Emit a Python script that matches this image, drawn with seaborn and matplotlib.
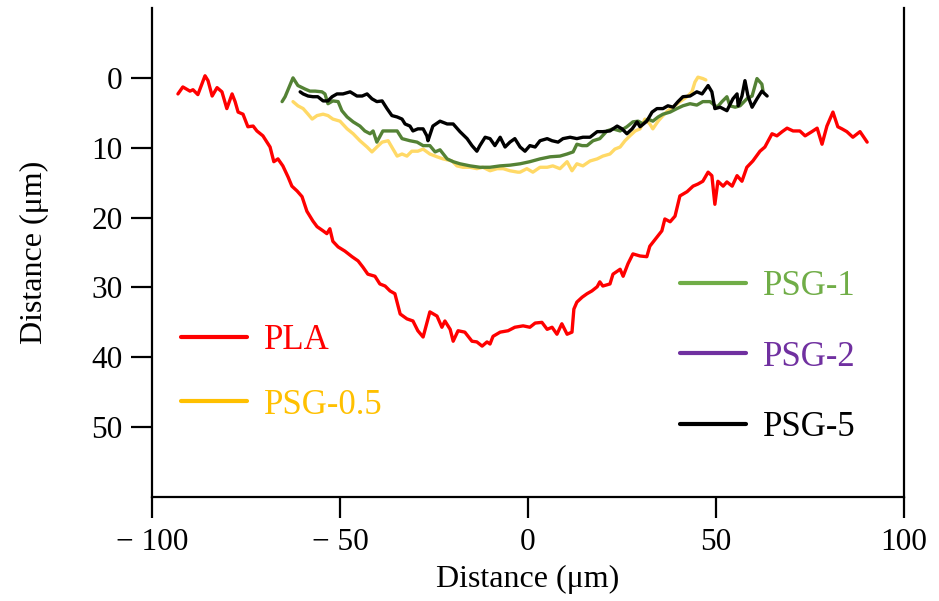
import numpy as np
import pandas as pd
import matplotlib
matplotlib.use("Agg")
import matplotlib.pyplot as plt
from matplotlib.lines import Line2D
import seaborn as sns

# ---------------- data ----------------
pla_x = [-93.1, -91.8, -89.9, -89.1, -87.8, -85.9, -85.1, -84.0, -82.7, -81.4, -80.1, -78.7, -77.9, -77.1,
         -75.8, -74.5, -73.1, -72.1, -70.5, -68.6, -67.6, -66.5, -65.2, -63.8, -62.8, -61.4, -60.1, -58.8,
         -57.2, -56.1, -54.5, -53.5, -52.7, -51.9, -50.5, -48.7, -46.8, -45.2, -43.9, -42.6, -40.7, -39.4,
         -38.0, -36.7, -35.4, -34.0, -32.2, -30.6, -29.3, -27.9, -26.1, -24.2, -22.9, -22.1, -20.7, -19.9,
         -18.6, -16.8, -14.9, -13.6, -12.2, -10.9, -10.1, -9.3, -7.4, -5.3, -3.5, -1.3, 0.5, 1.9, 3.7, 5.1,
         6.4, 7.7, 9.0, 10.4, 11.7, 12.2, 13.0, 14.4, 15.7, 17.0, 18.4, 19.1, 19.9, 21.8, 22.6, 24.5, 25.3,
         26.6, 27.9, 29.8, 31.6, 32.4, 34.3, 35.6, 36.4, 37.8, 39.1, 40.4, 42.3, 43.9, 45.2, 46.5, 47.9,
         48.9, 49.7, 50.5, 51.9, 52.9, 54.3, 55.6, 56.9, 58.2, 59.8, 61.7, 63.0, 64.9, 66.2, 67.6, 68.9,
         70.5, 72.3, 73.7, 75.5, 76.9, 78.2, 79.5, 81.1, 82.4, 83.5, 84.8, 86.4, 88.3, 90.2]
pla_y = [2.3, 1.3, 1.9, 1.7, 2.4, -0.3, 0.4, 2.6, 1.4, 2.0, 4.4, 2.3, 3.4, 4.9,
         5.2, 7.0, 6.9, 7.6, 8.3, 9.9, 12.0, 11.6, 12.6, 14.2, 15.5, 16.2, 17.0, 19.1,
         20.5, 21.3, 21.9, 22.3, 21.6, 23.4, 24.2, 24.8, 25.6, 26.2, 27.1, 28.1, 28.4, 29.5,
         29.8, 30.5, 30.9, 33.8, 34.5, 34.8, 36.2, 37.1, 33.5, 34.1, 35.7, 34.8, 36.0, 37.7,
         36.2, 36.4, 37.7, 37.8, 38.4, 37.8, 38.1, 37.0, 36.4, 36.2, 35.7, 35.5, 35.7, 35.1, 35.0, 36.0,
         35.7, 36.7, 35.2, 36.7, 36.4, 33.1, 32.1, 31.4, 30.9, 30.5, 29.9, 29.2, 29.8, 29.5, 28.1, 27.4, 28.4,
         26.6, 25.2, 25.5, 25.6, 24.1, 22.8, 21.9, 20.2, 20.6, 19.8, 16.9, 16.3, 15.5, 15.2, 14.8, 13.5,
         14.0, 18.1, 14.8, 15.5, 14.9, 15.5, 14.0, 14.8, 12.8, 11.9, 10.5, 9.9, 8.0, 8.3, 7.7, 7.2,
         7.6, 7.6, 8.3, 7.7, 7.2, 9.5, 6.9, 4.9, 7.0, 7.3, 7.7, 8.5, 7.7, 9.2]

psg05_x = [-62.5, -61.2, -59.8, -58.5, -57.4, -56.1, -54.5, -53.2, -51.9, -50.0, -48.1, -46.5, -44.7,
           -42.8, -41.5, -40.2, -38.8, -37.2, -35.9, -34.8, -33.5, -32.2, -30.9, -29.3, -27.9, -26.1,
           -24.2, -22.6, -20.2, -18.9, -17.3, -15.4, -13.6, -12.0, -10.1, -8.2, -6.6, -4.8, -2.7, -2.1,
           -0.3, 1.3, 3.2, 5.1, 6.6, 8.5, 10.4, 11.7, 13.0, 14.6, 16.5, 18.4, 19.9, 21.8, 23.1, 24.5,
           25.8, 27.1, 28.5, 29.8, 31.1, 32.4, 33.2, 34.6, 35.9, 37.2, 38.6, 40.4, 42.3, 43.6, 44.4,
           45.2, 46.5, 47.3]
psg05_y = [3.4, 4.0, 4.4, 5.2, 5.9, 5.4, 5.2, 5.4, 5.9, 6.2, 7.3, 8.0, 9.0,
           9.9, 10.6, 9.9, 9.2, 9.0, 10.2, 11.2, 10.9, 11.2, 10.5, 10.5, 10.2, 10.9,
           11.3, 11.6, 11.9, 12.6, 12.8, 12.8, 13.0, 12.8, 13.3, 13.0, 13.0, 13.3, 13.5, 13.5,
           13.0, 13.5, 12.8, 12.8, 12.6, 13.0, 12.0, 13.3, 12.3, 12.6, 11.9, 11.6, 11.2, 10.9, 10.2, 9.9,
           9.0, 8.3, 7.6, 7.3, 5.9, 6.6, 7.3, 6.2, 5.4, 4.7, 4.2, 3.4, 2.7, 2.0, 0.6,
           -0.1, 0.1, 0.3]

psg1_x = [-65.4, -64.6, -62.5, -61.2, -59.3, -58.0, -56.6, -54.8, -54.0, -53.2, -51.9, -50.5, -49.5,
          -48.1, -46.5, -44.7, -43.4, -42.0, -41.2, -40.2, -38.6, -36.7, -34.8, -33.5, -31.4, -29.5,
          -27.9, -26.1, -24.7, -23.4, -21.5, -19.9, -18.1, -15.4, -12.8, -10.1, -7.4, -4.8, -2.1, 0.5,
          3.2, 5.9, 8.5, 10.4, 12.0, 13.0, 14.4, 15.7, 17.3, 19.1, 21.0, 22.6, 24.5, 26.3, 27.9, 29.3,
          30.6, 31.9, 33.2, 34.6, 35.9, 37.8, 39.6, 41.2, 43.1, 44.9, 46.5, 48.4, 50.3, 51.6, 52.9,
          53.7, 55.1, 56.4, 58.2, 59.6, 60.9, 62.2, 62.5]
psg1_y = [3.4, 2.7, 0.0, 1.1, 1.6, 1.9, 1.9, 2.0, 2.3, 3.7, 3.3, 3.4, 4.7,
          5.6, 6.3, 6.9, 7.6, 8.0, 7.6, 9.2, 7.6, 7.6, 7.6, 8.7, 9.0, 9.2,
          9.7, 9.7, 10.6, 10.3, 11.6, 12.0, 12.3, 12.6, 12.8, 12.8, 12.6, 12.5, 12.3, 12.0,
          11.6, 11.3, 11.2, 10.9, 10.6, 9.5, 9.7, 9.7, 9.0, 8.7, 7.6, 7.3, 7.6, 7.0, 6.3, 6.2,
          6.6, 5.9, 6.2, 5.6, 5.2, 4.9, 4.4, 4.0, 3.7, 3.9, 3.4, 3.4, 4.2, 3.4, 2.7,
          4.0, 4.2, 4.0, 3.0, 2.6, 0.1, 0.9, 1.9]

psg5_x = [-60.6, -59.8, -58.5, -57.2, -55.9, -54.5, -53.2, -52.1, -50.8, -49.2, -47.3, -45.5, -44.1,
          -42.8, -41.5, -40.2, -38.8, -37.5, -36.2, -34.8, -33.5, -32.7, -31.4, -30.6, -29.3, -27.9,
          -26.9, -26.6, -25.3, -23.4, -21.5, -19.9, -18.1, -16.2, -14.9, -13.6, -12.8, -11.4, -10.1,
          -8.8, -7.4, -6.1, -4.8, -3.5, -2.1, -0.8, 0.5, 1.9, 3.2, 5.1, 6.4, 8.0, 9.3, 11.2, 13.0,
          14.6, 16.5, 18.4, 19.9, 21.8, 23.7, 25.0, 26.3, 27.7, 29.0, 29.8, 31.6, 33.0, 34.3, 35.9,
          37.2, 38.6, 39.9, 41.2, 43.1, 44.9, 46.3, 47.9, 48.9, 49.7, 51.1, 52.9, 54.5, 55.6, 55.9,
          56.9, 57.7, 58.5, 59.6, 60.9, 62.2, 63.6]
psg5_y = [2.0, 2.3, 2.6, 2.7, 2.7, 3.3, 3.3, 2.7, 2.3, 2.3, 2.0, 2.6, 2.6,
          2.3, 3.0, 3.4, 3.3, 4.4, 5.4, 5.6, 5.9, 6.6, 6.9, 7.6, 7.3, 7.3,
          8.3, 9.0, 6.9, 6.2, 6.6, 6.6, 7.7, 8.7, 9.7, 10.5, 9.7, 8.5, 8.7,
          9.7, 8.5, 9.9, 9.2, 8.7, 9.9, 10.5, 9.7, 9.9, 9.0, 8.7, 9.0, 9.2, 8.7, 8.5, 8.7,
          8.5, 8.5, 7.7, 7.7, 7.6, 6.9, 7.3, 8.0, 7.3, 6.3, 7.0, 6.2, 4.9, 4.4, 4.4,
          4.0, 4.2, 3.4, 2.7, 2.6, 2.0, 2.3, 1.1, 2.0, 4.4, 4.2, 4.7, 3.0, 2.3, 4.0,
          2.6, 0.4, 2.6, 4.2, 3.0, 1.9, 2.6]

series_names = ["PLA", "PSG-0.5", "PSG-1", "PSG-2", "PSG-5"]
line_colors = {"PLA": "#FF0000", "PSG-0.5": "#FFD966", "PSG-1": "#548235", "PSG-5": "#000000"}
legend_colors = {"PLA": "#FF0000", "PSG-0.5": "#FFC000", "PSG-1": "#70AD47",
                 "PSG-2": "#7030A0", "PSG-5": "#000000"}

x_ticks = [-100, -50, 0, 50, 100]
x_tick_labels = ["\u2212 100", "\u2212 50", "0", "50", "100"]
y_ticks = [0, 10, 20, 30, 40, 50]

# ---------------- build long table ----------------
frames = []
for name, xs, ys in [("PLA", pla_x, pla_y), ("PSG-0.5", psg05_x, psg05_y),
                     ("PSG-1", psg1_x, psg1_y), ("PSG-5", psg5_x, psg5_y)]:
    frames.append(pd.DataFrame({"x": xs, "y": ys, "series": name}))
df = pd.concat(frames, ignore_index=True)

sns.set_style("ticks")
plt.rcParams["font.family"] = ["Liberation Serif", "DejaVu Serif"]
plt.rcParams["text.color"] = "black"
plt.rcParams["axes.labelcolor"] = "black"

fig = plt.figure(figsize=(9.39, 6.01), dpi=100)
ax = fig.add_axes([152 / 939, 1 - 497 / 601, (904 - 152) / 939, (497 - 8) / 601])

sns.lineplot(data=df, x="x", y="y", hue="series", palette=line_colors,
             hue_order=["PLA", "PSG-0.5", "PSG-1", "PSG-5"],
             estimator=None, sort=False, linewidth=2.4, legend=False, ax=ax)

ax.set_xlim(-100, 100)
ax.set_ylim(60, -10)
ax.set_xticks(x_ticks)
ax.set_xticklabels(x_tick_labels)
ax.set_yticks(y_ticks)
ax.set_yticklabels([str(v) for v in y_ticks])

ax.spines["top"].set_visible(False)
for s in ["left", "bottom", "right"]:
    ax.spines[s].set_linewidth(1.6)
    ax.spines[s].set_color("black")
ax.tick_params(axis="both", direction="out", length=15, width=1.6, labelsize=22.5,
               colors="black", labelcolor="black", top=False, right=False)
ax.tick_params(axis="x", pad=7)
ax.tick_params(axis="y", pad=6)

ax.set_xlabel("Distance (μm)", fontsize=23, labelpad=6, color="black")
ax.set_ylabel("Distance (μm)", fontsize=23, labelpad=31, color="black")
ax.grid(False)

def make_legend(names, anchor, spacing):
    handles = [Line2D([0], [0], color=legend_colors[n], lw=3) for n in names]
    leg = ax.legend(handles, names, loc="center left", bbox_to_anchor=anchor,
                    bbox_transform=fig.transFigure, frameon=False, fontsize=25,
                    handlelength=1.9, handletextpad=0.5, labelspacing=spacing,
                    borderpad=0, borderaxespad=0,
                    labelcolor=[legend_colors[n] for n in names])
    return leg

leg1 = make_legend(["PLA", "PSG-0.5"], (181 / 939, 1 - 373 / 601), 0.9)
ax.add_artist(leg1)
leg2 = make_legend(["PSG-1", "PSG-2", "PSG-5"], (680 / 939, 1 - 357 / 601), 1.09)

fig.savefig("out.png", dpi=100)
